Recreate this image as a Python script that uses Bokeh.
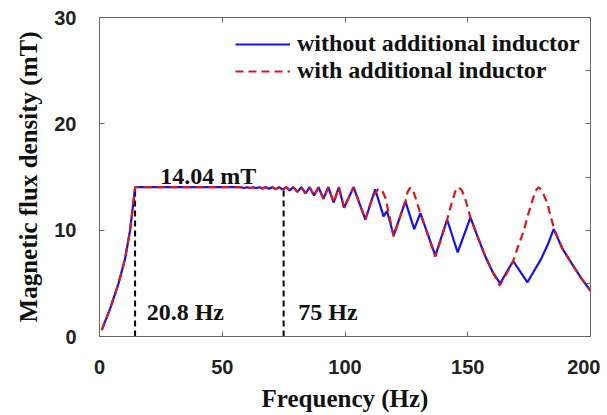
import numpy as np
from bokeh.plotting import figure
from bokeh.models import Range1d, LinearAxis, FixedTicker, Legend, LegendItem
from bokeh.core.properties import value
from bokeh.embed import file_html
from bokeh.resources import INLINE

# ---- data ----
freq_common = [0.9, 4.3, 7.7, 10.4, 12.4, 13.8, 14.5, 57.5,
               58.8, 60.0, 61.3, 62.5, 63.8, 65.1, 66.4, 67.7, 69.0, 70.4,
               71.8, 73.2, 74.6, 76.0, 77.5, 79.0, 80.6, 82.2, 83.9, 85.6,
               87.4, 89.2, 91.2, 93.2, 95.4, 97.5, 99.6, 103.5, 108.3]
b_common = [0.6, 2.6, 4.95, 7.3, 9.9, 12.6, 14.04, 14.04,
            13.97, 14.04, 13.96, 14.04, 13.95, 14.04, 13.93, 14.04, 13.9, 14.04,
            13.86, 14.04, 13.82, 14.04, 13.75, 14.04, 13.6, 14.04, 13.45, 14.04,
            13.25, 14.04, 12.95, 14.04, 12.6, 14.04, 12.1, 14.04, 11.0]

freq_without_tail = [112.3, 115.7, 117.1, 119.8, 124.6, 128.2, 130.7, 136.8,
                     141.6, 145.9, 151.1, 154.0, 157.2, 160.3, 163.2, 168.5,
                     174.3, 179.9, 182.5, 185.0, 188.5, 192.5, 196.5, 200.0]
b_without_tail = [13.85, 11.3, 11.8, 9.5, 12.7, 10.1, 11.6, 7.6,
                  11.0, 7.9, 11.2, 9.4, 7.5, 6.0, 5.0, 7.1,
                  5.1, 7.3, 8.6, 10.1, 8.3, 6.8, 5.4, 4.3]

freq_with_tail = [110.5, 112.3, 113.5, 115.0, 116.5, 118.0, 119.8, 122.2,
                  124.6, 125.5, 126.6, 127.8, 129.2, 130.7, 133.8, 136.8,
                  139.3, 141.6, 143.5, 145.0, 146.3, 147.7, 149.3, 151.1,
                  154.0, 157.2, 160.3, 163.0, 165.8, 168.5, 171.0, 172.8,
                  174.5, 176.2, 177.6, 178.9, 180.3, 182.3, 183.8, 185.2,
                  188.5, 192.5, 196.5, 200.0]
b_with_tail = [12.6, 13.5, 13.85, 13.8, 13.0, 11.4, 9.4, 11.1,
               12.7, 13.6, 14.0, 13.7, 12.7, 11.6, 9.5, 7.5,
               9.3, 11.0, 12.6, 13.7, 14.04, 13.7, 12.7, 11.2,
               9.4, 7.5, 6.0, 4.8, 5.9, 7.1, 8.8, 9.9,
               11.4, 12.7, 13.7, 14.04, 13.7, 12.6, 11.3, 10.1,
               8.3, 6.8, 5.4, 4.3]

marker_freqs = [14.5, 75.0]
plateau_level = 14.04

x_ticks = [0, 50, 100, 150, 200]
y_ticks = [0, 10, 20, 30]
top_ticks = [50, 100, 150]
right_ticks = [5, 10, 15, 20, 25]

annot_x = [24.7, 19.2, 81.0]
annot_y = [15.07, 2.3, 2.3]
annot_text = ["14.04 mT", "20.8 Hz", "75 Hz"]

series_labels = ["without additional inductor", "with additional inductor"]

freq_without = freq_common + freq_without_tail
b_without = b_common + b_without_tail
freq_with = freq_common + freq_with_tail
b_with = b_common + b_with_tail

SERIF = "Liberation Serif"
SANS = "Liberation Sans"
FRAME = "#666666"

p = figure(width=600, height=414, x_range=Range1d(0, 200), y_range=Range1d(0, 30),
           output_backend="svg", toolbar_location=None,
           min_border_left=99, min_border_right=10, min_border_top=17, min_border_bottom=60)
p.background_fill_color = "white"
p.border_fill_color = "white"
p.outline_line_color = FRAME
p.outline_line_width = 1
p.xgrid.visible = False
p.ygrid.visible = False

for ax, ticks in ((p.xaxis[0], x_ticks), (p.yaxis[0], y_ticks)):
    ax.ticker = FixedTicker(ticks=ticks)
    ax.major_tick_in = 5
    ax.major_tick_out = 0
    ax.minor_tick_line_color = None
    ax.axis_line_color = FRAME
    ax.major_tick_line_color = FRAME
    ax.major_label_text_font = SANS
    ax.major_label_text_font_style = "bold"
    ax.major_label_text_font_size = "20px"
    ax.major_label_text_color = "#222222"
    ax.axis_label_text_font = SERIF
    ax.axis_label_text_font_style = "bold"
    ax.axis_label_text_font_size = "25px"
    ax.axis_label_text_color = "#111111"

p.xaxis.axis_label = "Frequency (Hz)"
p.yaxis.axis_label = "Magnetic flux density (mT)"
p.xaxis.major_label_standoff = 23
p.yaxis.major_label_standoff = 23
p.xaxis.axis_label_standoff = 8
p.yaxis.axis_label_standoff = 9

top_axis = LinearAxis(ticker=FixedTicker(ticks=top_ticks), major_tick_in=5, major_tick_out=0,
                      minor_tick_line_color=None, axis_line_color=FRAME, major_tick_line_color=FRAME,
                      major_label_overrides={t: "" for t in top_ticks}, major_label_standoff=0)
right_axis = LinearAxis(ticker=FixedTicker(ticks=right_ticks), major_tick_in=5, major_tick_out=0,
                        minor_tick_line_color=None, axis_line_color=FRAME, major_tick_line_color=FRAME,
                        major_label_overrides={t: "" for t in right_ticks}, major_label_standoff=0)
p.add_layout(top_axis, "above")
p.add_layout(right_axis, "right")

# vertical dashed marker lines
p.segment(x0=marker_freqs, y0=[0, 0], x1=marker_freqs, y1=[plateau_level] * 2,
          line_color="black", line_width=2, line_dash="6 4")

r_without = p.line(freq_without, b_without, line_color="#1010ff", line_width=2.2)
r_with = p.line(freq_with, b_with, line_color="#e01515", line_width=2.2, line_dash="8 5")

p.text(x=annot_x, y=annot_y, text=annot_text, text_font=value(SERIF), text_font_style="bold",
       text_font_size="24px", text_color="#111111", text_baseline="alphabetic", text_align="left")

legend = Legend(items=[LegendItem(label=series_labels[0], renderers=[r_without]),
                       LegendItem(label=series_labels[1], renderers=[r_with])],
                location=(136, 252), orientation="vertical")
legend.label_text_font = SERIF
legend.label_text_font_style = "bold"
legend.label_text_font_size = "24px"
legend.label_text_color = "#111111"
legend.glyph_width = 55
legend.glyph_height = 26
legend.label_height = 26
legend.label_standoff = 7
legend.spacing = 0
legend.padding = 0
legend.margin = 0
legend.border_line_color = None
legend.background_fill_alpha = 0
p.add_layout(legend, "center")

open("out.html", "w").write(file_html(p, INLINE))
